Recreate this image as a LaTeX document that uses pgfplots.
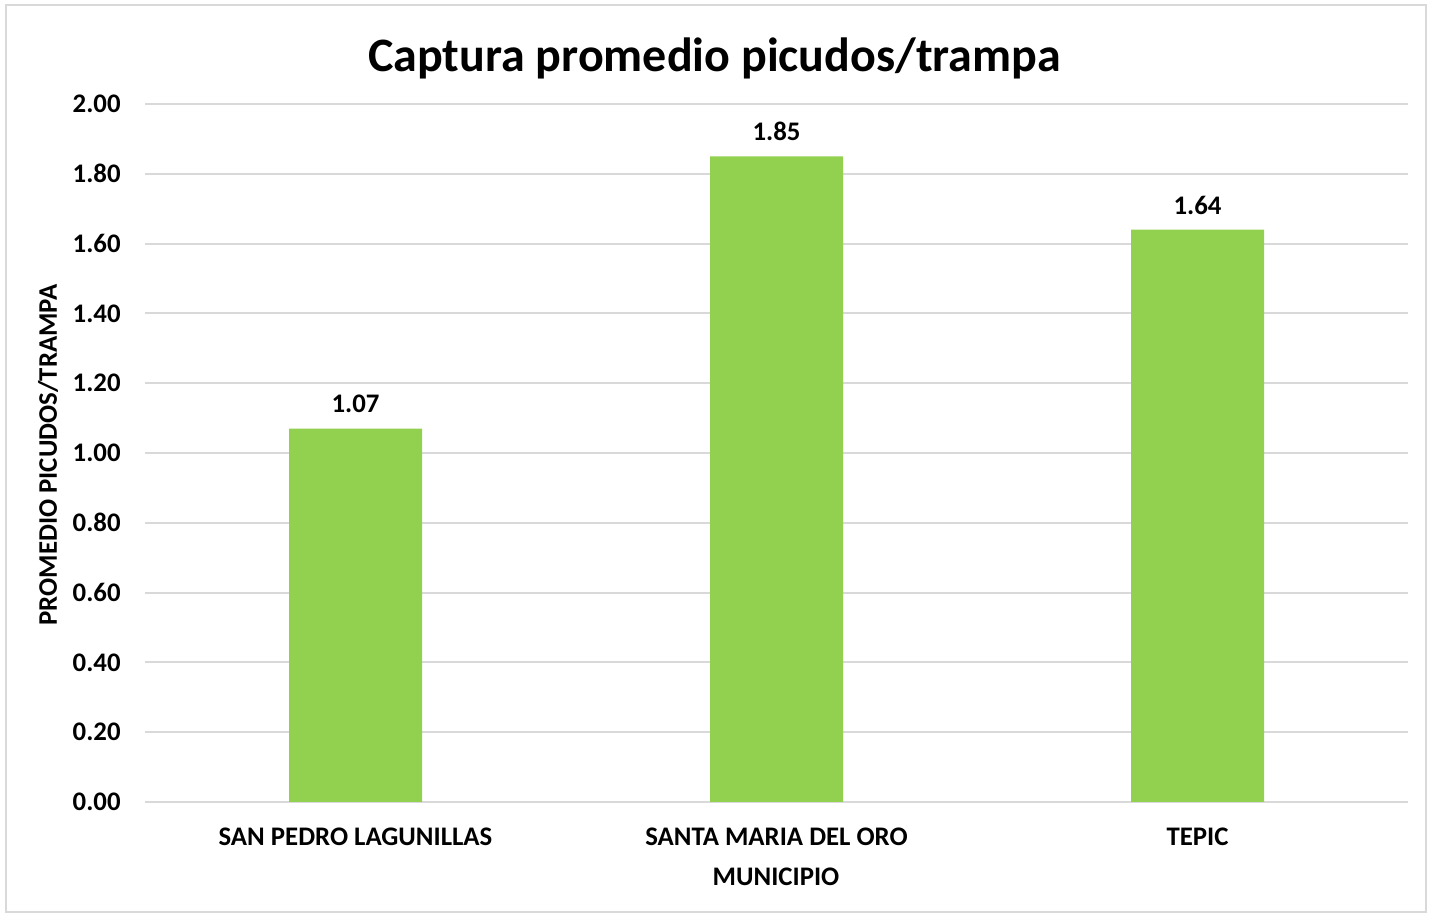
\documentclass[border=0pt]{standalone}
\usepackage{fontspec}
\setmainfont{Carlito}
\usepackage{pgfplots}
\pgfplotsset{compat=1.18}
\definecolor{barg}{HTML}{92D050}
\definecolor{gridg}{HTML}{D9D9D9}
\begin{document}
\begin{tikzpicture}
\path[use as bounding box] (0,0) rectangle (715.5pt,457.5pt);
\draw[gridg, line width=1pt] (3pt,1.5pt) rectangle (713pt,455pt);
\begin{axis}[
  at={(72.5pt,56.5pt)}, anchor=south west,
  scale only axis, width=631.5pt, height=349pt,
  ymin=0, ymax=2, xmin=-0.5, xmax=2.5,
  ytick={0,0.2,...,2.0},
  xtick={0,1,2},
  xticklabels={SAN PEDRO LAGUNILLAS, SANTA MARIA DEL ORO, TEPIC},
  ymajorgrids, grid style={gridg, line width=1pt},
  axis line style={draw=none},
  major tick length=0pt,
  /pgf/number format/assume math mode=true,
  /pgf/number format/.cd, fixed, fixed zerofill, precision=2, /pgfplots/.cd,
  yticklabel style={font=\fontsize{13.4}{15}\selectfont\bfseries, anchor=east, inner sep=0pt, xshift=-12pt},
  xticklabel style={font=\fontsize{13.4}{15}\selectfont\bfseries, anchor=north, inner sep=0pt, yshift=-13pt},
  ybar, bar width=66.5pt,
  nodes near coords,
  nodes near coords style={font=\fontsize{13.4}{15}\selectfont\bfseries, anchor=south, inner sep=0pt, yshift=7.5pt, /pgf/number format/.cd, fixed, fixed zerofill, precision=2},
  clip=false,
]
\addplot[fill=barg, draw=none] coordinates {(0,1.07) (1,1.85) (2,1.64)};
\end{axis}
\node[font=\fontsize{24}{28}\selectfont\bfseries] at (357.25pt,428.5pt) {Captura promedio picudos/trampa};
\node[font=\fontsize{13.4}{15}\selectfont\bfseries, rotate=90] at (24pt,230pt) {PROMEDIO PICUDOS/TRAMPA};
\node[font=\fontsize{13.4}{15}\selectfont\bfseries] at (388pt,19pt) {MUNICIPIO};
\end{tikzpicture}
\end{document}
